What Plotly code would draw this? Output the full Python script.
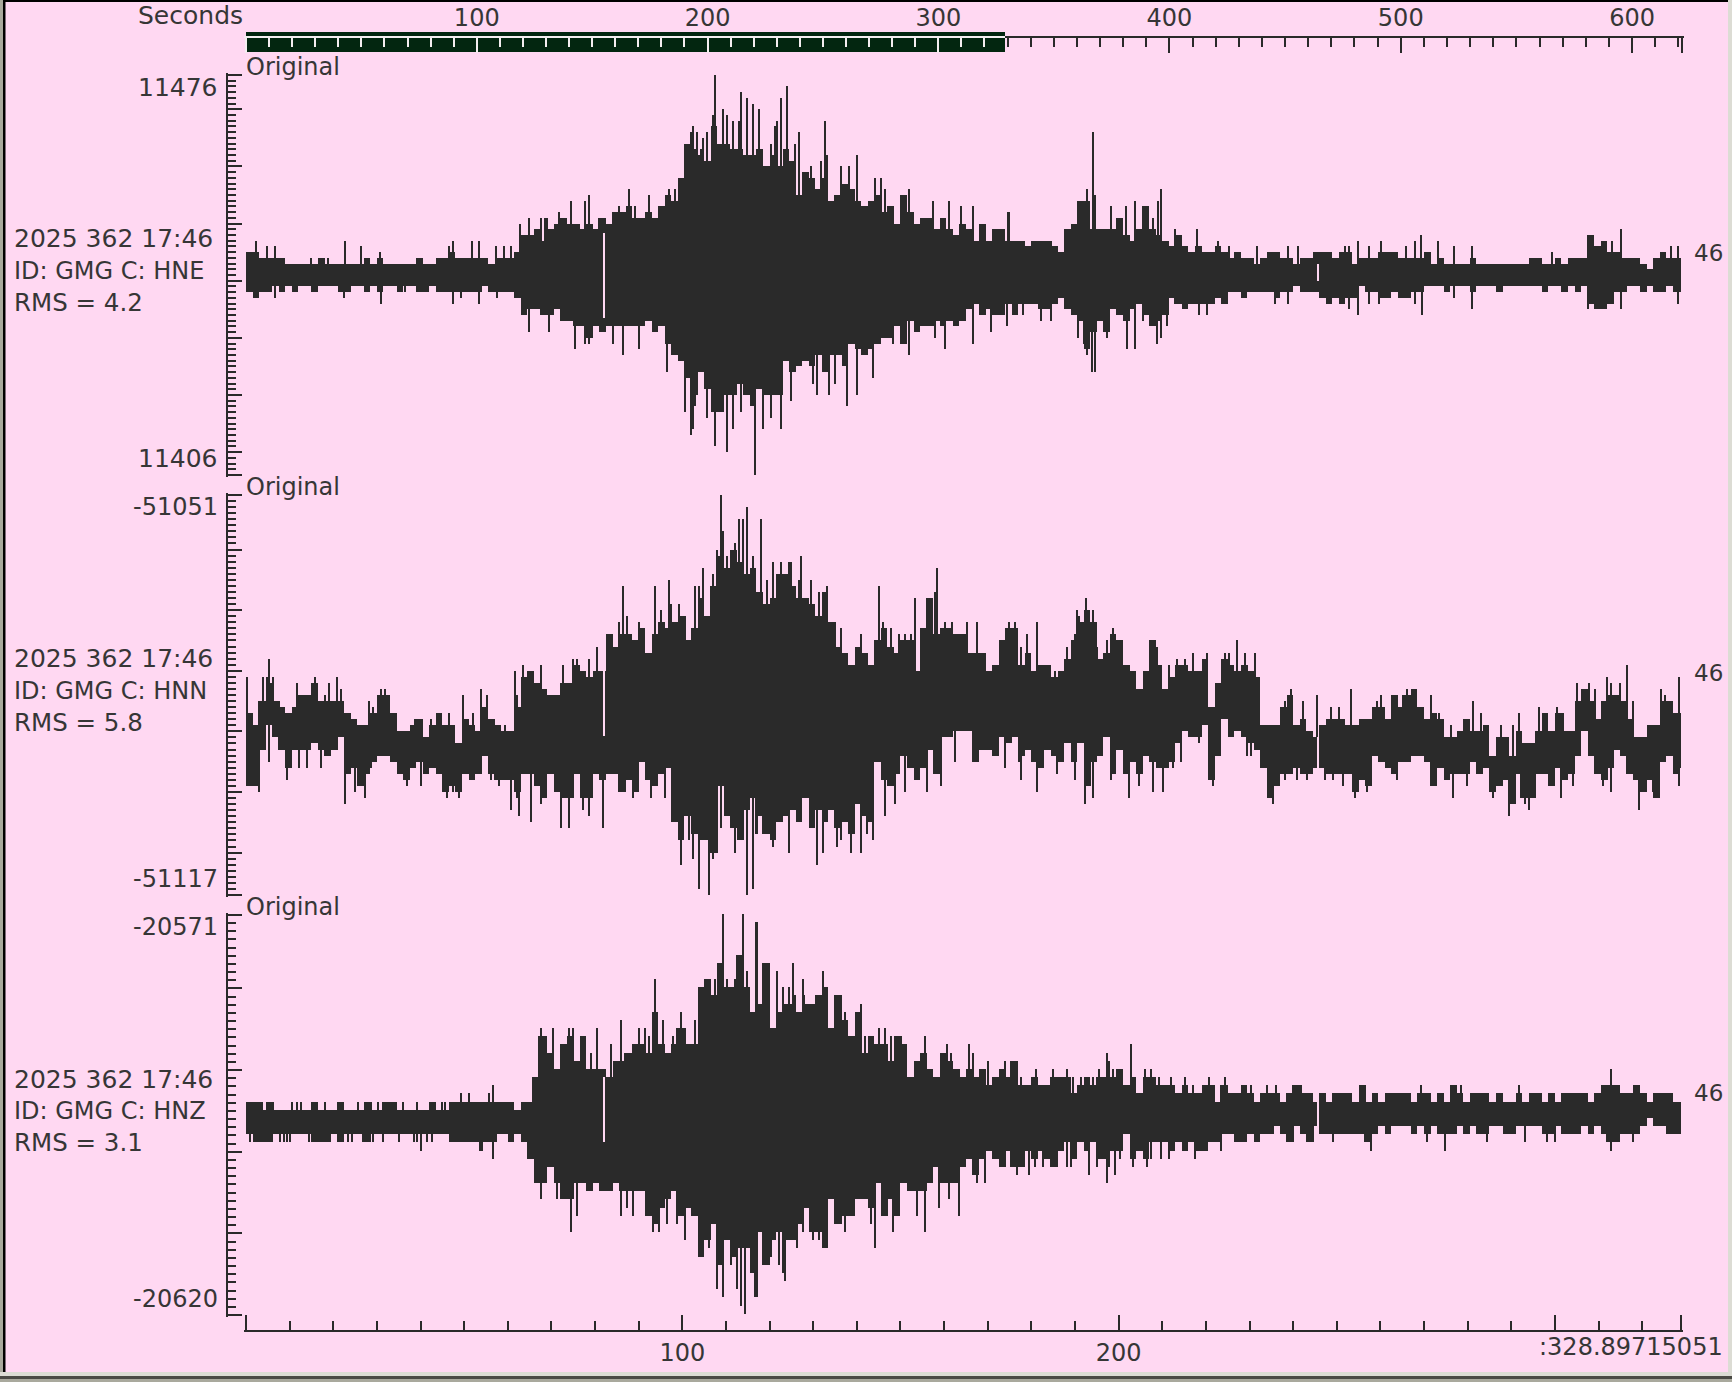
import plotly.graph_objects as go

WIDTH = 1732
HEIGHT = 1382
PINK = "#ffd8f2"
DARK = "#2a2a2a"
TEXT = "#363636"
GREEN = "#032610"
FONT = "DejaVu Sans"

# window lengths (seconds)
TRACE_LEN = 328.89715051
TOTAL_LEN = 621.6

# axis limits and centre level of each channel (counts)
HNE_RANGE = [11406, 11476]
HNN_RANGE = [-51117, -51051]
HNZ_RANGE = [-20620, -20571]
HNE_BASE = 11441
HNN_BASE = -51084
HNZ_BASE = -20595.85

# envelope of each channel in 1.5 s bins, counts from the centre level
HNE_HI = [4, 4, 3, 3, 3, 3, 2, 2, 2, 2, 2, 3, 2, 2, 2, 2, 2, 2, 3, 2,
          3, 2, 2, 2, 2, 2, 3, 2, 2, 3, 3, 4, 3, 3, 3, 3, 3, 2, 3, 3,
          3, 4, 7,
          7, 8, 6, 8, 9, 10, 9, 9, 8, 9, 8, 10, 9, 11, 11, 12, 10, 10, 11, 10,
          12, 14, 13, 17, 23, 22, 21, 20, 26, 23, 23, 22, 22, 21, 21, 22, 19, 21, 19, 22,
          20, 14, 18, 17, 15, 17, 13, 14, 16, 15, 13, 12, 13, 14, 11, 12, 9, 14, 11, 9,
          10, 10, 8, 10, 8, 7, 9, 8, 6, 9, 6, 8, 8, 6,
          6, 6, 5, 6, 6, 6, 5, 4, 8, 9, 13, 13, 8, 8, 8, 8, 10, 7, 6, 8,
          12, 8, 7, 6, 5, 7, 5, 4, 5, 4, 4, 5, 4, 3, 4, 3, 3, 2, 3, 4,
          4, 3, 3, 2, 3, 3, 4, 4, 4, 3, 4, 4, 2, 3, 3, 3, 4, 4, 4, 3,
          3, 3, 3, 4, 2, 3, 2, 2, 2, 2, 3, 2, 2, 2, 2, 2, 2, 2, 2, 3,
          3, 2, 2, 3, 2, 3, 3, 3, 7, 5, 6, 4, 4, 3, 3, 3, 2, 1, 3, 4, 3, 3, 3]
HNE_LO = [-3, -4, -3, -3, -2, -3, -2, -3, -2, -2, -3, -2, -2, -2, -3, -3, -2, -2, -3, -2,
          -3, -2, -2, -3, -2, -2, -3, -3, -2, -3, -3, -3, -3, -3, -3, -3, -2, -3, -3, -3,
          -3, -4, -7,
          -6, -6, -7, -7, -6, -8, -8, -9, -9, -11, -9, -10, -9, -9, -9, -9, -9, -9, -8, -10,
          -9, -12, -14, -15, -18, -21, -17, -20, -24, -24, -21, -21, -19, -21, -23, -20, -21, -21, -21, -15,
          -17, -16, -15, -16, -14, -17, -14, -14, -16, -12, -13, -14, -13, -12, -11, -11, -9, -12, -8, -10,
          -9, -9, -8, -9, -8, -9, -8, -6, -5, -7, -6, -7, -7, -5,
          -7, -5, -5, -5, -6, -6, -5, -4, -6, -7, -8, -13, -10, -8, -10, -6, -7, -8, -6, -5,
          -7, -9, -8, -7, -4, -5, -6, -5, -5, -5, -5, -4, -5, -3, -3, -4, -3, -3, -3, -3,
          -4, -3, -3, -2, -3, -3, -3, -4, -5, -4, -5, -4, -4, -2, -3, -3, -4, -4, -3, -4,
          -4, -3, -3, -2, -2, -2, -3, -2, -2, -2, -3, -2, -2, -2, -3, -2, -2, -2, -2, -2,
          -2, -3, -2, -2, -3, -2, -3, -2, -5, -6, -6, -5, -3, -3, -2, -2, -3, -2, -3, -3, -2, -3, -3]
HNN_HI = [-3, -5, -1, 2, -1, -2, -3, -2, 0, 0, 2, -1, -1, -1, -1, -3, -4, -5, -5, -3,
          0, 0, -3, -6, -6, -5, -4, -7, -5, -3, -5, -5, -8, -4, -5, -6, -2, -4, -5, -6,
          -6, -2, 3,
          4, 2, 1, 0, 0, 2, 2, 5, 4, 3, 4, 4, 10, 8, 10, 10, 9, 11, 7, 10,
          12, 11, 12, 13, 9, 11, 16, 13, 18, 23, 21, 24, 22, 20, 21, 17, 15, 16, 20, 20,
          18, 16, 16, 15, 13, 17, 12, 8, 7, 5, 8, 7, 5, 9, 11, 8, 7, 9, 9, 4,
          11, 16, 10, 11, 11, 10, 10, 7, 7, 7, 4, 5, 9, 11,
          11, 5, 7, 4, 5, 5, 3, 4, 6, 9, 12, 14, 12, 6, 7, 10, 9, 5, 4, 1,
          4, 9, 5, 1, 3, 5, 5, 4, 4, 6, -2, 2, 6, 5, 4, 5, 4, 3, -5, -5,
          -5, -2, 0, -5, -4, -6, -7, -5, -4, -4, -4, -5, -5, -4, -4, -2, -2, -4, 0, -2,
          0, 1, -2, -4, -3, -4, -7, -7, -6, -4, -6, -6, -5, -10, -7, -7, -10, -6, -8, -8,
          -6, -3, -6, -3, -6, -6, -1, 1, -1, -4, -1, 0, 0, -1, -4, -7, -7, -5, -5, -1, -1, -3, -3]
HNN_LO = [-15, -15, -9, -5, -7, -9, -12, -9, -9, -9, -8, -9, -10, -9, -7, -13, -12, -15, -13, -11,
          -10, -10, -11, -13, -14, -12, -11, -13, -12, -13, -16, -15, -16, -13, -14, -13, -10, -13, -14, -14,
          -14, -16, -13,
          -13, -15, -17, -13, -16, -17, -17, -13, -17, -17, -13, -14, -13, -13, -16, -14, -16, -11, -14, -15,
          -13, -12, -21, -24, -20, -23, -24, -24, -26, -15, -20, -22, -24, -19, -17, -20, -23, -24, -21, -20,
          -19, -21, -17, -22, -19, -21, -19, -22, -21, -23, -18, -20, -21, -11, -14, -15, -13, -10, -12, -14,
          -12, -9, -13, -7, -7, -6, -6, -6, -11, -9, -9, -10, -7, -8,
          -7, -10, -9, -11, -12, -9, -10, -11, -8, -11, -8, -15, -11, -10, -7, -13, -9, -13, -11, -13,
          -10, -11, -12, -12, -11, -8, -6, -7, -7, -5, -14, -10, -4, -7, -6, -7, -8, -9, -12, -17,
          -15, -13, -13, -12, -13, -13, -12, -12, -13, -13, -13, -13, -16, -14, -15, -10, -11, -12, -13, -11,
          -11, -10, -10, -11, -15, -12, -14, -13, -13, -13, -11, -13, -12, -16, -15, -14, -18, -13, -17, -17,
          -13, -13, -15, -12, -14, -13, -10, -6, -10, -13, -14, -12, -9, -10, -13, -14, -16, -14, -17, -11, -10, -13, -12]
HNZ_HI = [2, 2, 1, 2, 1, 1, 1, 1, 1, 1, 2, 1, 1, 1, 2, 1, 1, 1, 2, 1,
          1, 2, 2, 1, 1, 1, 1, 1, 2, 1, 1, 2, 2, 2, 2, 2, 2, 2, 2, 2,
          2, 1, 2,
          2, 5, 10, 8, 6, 9, 10, 7, 10, 6, 6, 6, 5, 7, 7, 8, 9, 9, 8, 13,
          9, 8, 9, 11, 9, 9, 16, 17, 15, 19, 16, 16, 20, 16, 13, 14, 19, 11, 13, 14,
          14, 13, 14, 14, 15, 16, 11, 15, 12, 10, 13, 8, 10, 9, 9, 7, 10, 9, 5, 7,
          8, 6, 5, 8, 7, 6, 5, 6, 5, 6, 4, 5, 6, 5,
          7, 4, 4, 5, 4, 4, 5, 5, 5, 3, 4, 5, 4, 5, 5, 5, 6, 4, 5, 3,
          5, 5, 4, 4, 4, 3, 4, 3, 3, 4, 4, 2, 4, 3, 3, 4, 3, 2, 3, 3,
          3, 2, 3, 4, 3, 3, 2, 3, 2, 3, 3, 3, 2, 4, 2, 3, 2, 3, 3, 3,
          3, 2, 3, 3, 2, 3, 2, 4, 3, 2, 3, 3, 3, 2, 3, 2, 2, 3, 2, 3,
          3, 2, 3, 2, 3, 3, 3, 3, 2, 3, 4, 4, 4, 3, 3, 4, 3, 2, 3, 3, 3, 2, 2]
HNZ_LO = [-2, -3, -3, -3, -2, -2, -2, -2, -2, -2, -3, -3, -3, -2, -3, -2, -2, -2, -3, -2,
          -2, -2, -2, -2, -2, -2, -2, -2, -2, -2, -2, -3, -3, -3, -3, -3, -3, -3, -2, -2,
          -3, -2, -3,
          -5, -8, -8, -6, -8, -10, -10, -8, -8, -9, -8, -9, -9, -8, -9, -9, -9, -9, -12, -13,
          -11, -10, -9, -12, -11, -12, -17, -15, -13, -18, -15, -17, -16, -16, -19, -14, -18, -15, -14, -15,
          -15, -13, -11, -14, -14, -16, -10, -13, -12, -12, -10, -10, -11, -8, -12, -10, -12, -8, -9, -9,
          -9, -8, -6, -8, -8, -8, -6, -5, -7, -5, -4, -5, -6, -4,
          -6, -6, -4, -5, -4, -5, -6, -4, -3, -5, -3, -4, -3, -5, -5, -4, -4, -2, -5, -4,
          -5, -3, -3, -3, -4, -3, -4, -3, -4, -4, -3, -3, -2, -2, -3, -3, -2, -3, -2, -2,
          -1, -2, -3, -1, -2, -3, -1, -2, -2, -2, -2, -2, -2, -2, -3, -2, -1, -2, -1, -1,
          -1, -2, -1, -2, -1, -2, -2, -2, -1, -2, -1, -2, -2, -1, -1, -2, -2, -1, -1, -1,
          -1, -2, -2, -1, -2, -2, -2, -1, -2, -1, -2, -3, -3, -2, -2, -2, -1, 0, -1, -1, -2, -2, -2]

# single spikes above and below the envelope: (seconds, counts from centre)
HNE_UP = [(2.4, 6), (4.8, 5), (6.6, 5), (14.8, 3), (18.7, 3), (22.6, 6), (26.3, 5), (30.8, 4), (46.5, 5), (47.4, 6),
          (51.9, 6), (53.3, 6), (57.3, 5), (59.1, 5), (60.7, 5), (62.9, 9), (64.8, 10), (67.6, 10), (68.5, 10), (69, 10),
          (71.7, 11), (72.9, 10), (74.5, 13), (77.7, 13), (78.6, 14), (80.9, 10), (85.5, 12), (87.8, 15), (89.1, 12), (92.3, 14),
          (96.9, 15), (98.3, 15), (100.6, 21), (102, 25), (102.4, 26), (103.3, 25), (104.3, 22), (104.7, 24), (105.6, 25), (107, 28),
          (107.5, 35), (109.3, 29), (110.2, 28), (111.6, 27), (113, 27), (113.4, 32), (114.8, 31), (116.2, 30), (117.6, 29), (120.3, 23),
          (121.2, 26), (121.7, 27), (122.6, 31), (124, 33), (125.8, 23), (126.7, 25), (128.1, 18), (129.5, 19), (131.8, 20), (132.7, 27),
          (133.1, 21), (136.4, 19), (138.2, 19), (140, 21), (144.1, 17), (145.5, 17), (146.4, 15), (151.9, 15), (157.4, 13), (161.1, 13),
          (163.8, 12), (166.6, 12), (174.7, 11), (174.9, 11), (190.8, 13), (191.9, 12), (192.7, 15), (194.1, 25), (194.6, 14), (198.3, 12),
          (201.8, 12), (203.8, 13), (205.5, 10), (207.9, 10), (209, 13), (209.8, 15), (213, 8), (218, 8), (222.7, 6), (225.4, 5),
          (231.8, 5), (238.8, 5), (241.1, 5), (252, 5), (252.8, 5), (254.8, 6), (257.5, 5), (260.2, 6), (265.9, 5), (268, 6),
          (269.4, 7), (273.1, 6), (276.8, 5), (280.9, 5), (299.4, 4), (308.1, 7), (311.6, 6), (313, 6), (315.1, 8), (326.5, 5), (328.3, 5)]
HNE_DN = [(2.6, -4), (6.6, -4), (22.5, -4), (28.1, -3), (31, -5), (36.5, -3), (47.4, -5), (49.2, -4), (53.4, -5), (57.6, -4),
          (61.7, -4), (64.8, -10), (69.4, -10), (75.4, -13), (77.7, -12), (78.6, -12), (84.1, -12), (86.4, -14), (90, -13), (96.5, -17),
          (100.6, -24), (102, -28), (102.4, -27), (102.9, -23), (105.6, -25), (107.5, -30), (110.2, -31), (111.6, -27), (113.4, -24), (116.6, -35),
          (118.5, -27), (120.3, -25), (122.6, -27), (124.9, -22), (129.9, -19), (130.9, -21), (133.6, -21), (135, -19), (137.7, -23), (140, -21),
          (143.7, -18), (148.3, -12), (151.9, -14), (157.9, -11), (160.2, -13), (166.6, -12), (170.7, -10), (174.4, -9), (178, -7), (182.2, -8),
          (184.4, -8), (190.8, -11), (192.1, -12), (192.7, -14), (193.9, -17), (194.6, -17), (197.3, -11), (201.9, -13), (203.8, -13), (205.5, -8),
          (208.9, -12), (209.8, -11), (211.1, -9), (218.4, -7), (220.3, -7), (235.9, -5), (238.8, -5), (252.9, -6), (254.8, -7), (257.5, -5),
          (259.7, -5), (268, -5), (269.5, -7), (276.8, -4), (280.9, -6), (307.6, -6), (310.4, -6), (315.1, -6), (328.3, -5)]
HNN_UP = [(0.2, 3), (3.9, 3), (4.8, 3), (5.3, 6), (6.2, 3), (7.6, -1), (11.7, 2), (15.3, 2), (15.8, 3), (18.1, 0),
          (19, 2), (20.9, 3), (21.8, 1), (28.2, -1), (29.1, -2), (30.9, 1), (31.9, 1), (36.4, -6), (38.7, -4), (42.4, -4),
          (44.5, -3), (46.5, -3), (49.7, 0), (52, -3), (53.9, 1), (55.2, 0), (57.1, -5), (59.4, -5), (61.6, 4), (62.1, 0),
          (63.5, 5), (65.3, 4), (67.6, 5), (72.6, 5), (74.9, 6), (75.8, 6), (78.6, 6), (80.4, 8), (85.5, 12), (86.4, 18),
          (87.3, 13), (90.1, 12), (93.7, 18), (95.1, 14), (96.9, 19), (97.4, 15), (99.2, 15), (100.6, 13), (102.9, 18), (103.8, 18),
          (104.7, 21), (106.6, 18), (107, 20), (107.9, 24), (108.8, 33), (109.3, 27), (110.2, 23), (111.6, 24), (112.1, 25), (113, 29),
          (113.9, 29), (114.8, 31), (116.2, 23), (118, 29), (119.4, 19), (120.8, 22), (121.7, 18), (122.6, 22), (124.4, 22), (124.9, 22),
          (126.7, 19), (127.2, 23), (129.5, 19), (131.3, 17), (133.1, 18), (135, 12), (136.4, 11), (140.9, 10), (145, 18), (146, 12),
          (147.8, 11), (149.6, 10), (151, 10), (152.4, 10), (153.3, 16), (157, 15), (157.9, 17), (158.3, 21), (160.2, 12), (161.9, 12),
          (165.2, 12), (167.5, 12), (174.9, 12), (176.2, 12), (177.6, 8), (179, 10), (181.3, 12), (185.4, 4), (186.3, 4), (188.2, 8),
          (190, 10), (190.5, 14), (190.9, 13), (192.5, 16), (193.4, 12), (194.1, 14), (195, 8), (197.3, 9), (198.7, 11), (200.1, 9),
          (207.4, 8), (207.9, 9), (208.8, 8), (209.7, 5), (211.5, 5), (213.4, 6), (215.2, 6), (217, 7), (220.2, 7), (224.4, 7),
          (225.3, 7), (227.1, 9), (228.9, 7), (231.2, 7), (238.1, -1), (239.5, 1), (242.3, -1), (245.5, 0), (248.7, -2), (250.5, -2),
          (253.2, 1), (259.2, -1), (260.1, 0), (263.9, 0), (265.2, 0), (266.1, 1), (267.5, 1), (271.6, 0), (273.4, -3), (276.2, -5),
          (281.2, -1), (283.1, -3), (287.6, -5), (290.5, -5), (291.8, -3), (296.4, -2), (297.5, -3), (300.5, -2), (301.9, -3), (305.1, 2),
          (306.5, 1), (307.8, 2), (309.2, 1), (311.9, 3), (312.9, 2), (314.9, 2), (316.5, 5), (317.9, -1), (324.3, 1), (325.2, 0), (328.4, 3)]
HNN_DN = [(3, -16), (5.3, -11), (9.4, -14), (12.1, -12), (14, -12), (17.2, -12), (22.7, -18), (25, -16), (27.3, -17), (28.6, -12),
          (36.9, -15), (40.1, -15), (45.6, -15), (46.1, -17), (47.4, -16), (48.8, -17), (56.1, -14), (58, -15), (60.7, -19), (62.1, -17),
          (62.6, -20), (65.3, -21), (67.6, -18), (72.2, -22), (74, -22), (77.2, -19), (78.6, -20), (81.8, -22), (88.7, -17), (92.8, -17),
          (96, -17), (98.3, -21), (99.7, -28), (101.5, -24), (102.4, -27), (103.8, -32), (105.2, -24), (106.1, -33), (107, -27), (107.5, -26),
          (108.8, -22), (112.1, -26), (113.9, -24), (114.8, -33), (116.2, -32), (117.1, -23), (118.5, -23), (120.8, -25), (124.4, -26), (129.9, -22),
          (130.9, -28), (132.2, -26), (135.4, -25), (136.4, -24), (138.6, -26), (140.9, -26), (142.3, -23), (143.7, -24), (146.4, -20), (148.7, -18),
          (151, -16), (156.1, -16), (159.3, -15), (162.5, -11), (166.6, -10), (173.9, -12), (177.1, -11), (177.6, -14), (181.3, -16), (185.9, -13),
          (190, -14), (192.3, -18), (194.1, -17), (198.2, -14), (202.4, -17), (204.7, -15), (207.9, -16), (210.2, -16), (212.5, -12), (214.3, -11),
          (218.4, -8), (221.6, -15), (222.5, -10), (225.7, -7), (229.4, -10), (230.3, -10), (234.9, -17), (235.4, -18), (238.1, -14), (240.9, -14),
          (243.2, -14), (247.3, -14), (249.1, -14), (251.4, -15), (254.2, -17), (256.9, -16), (263.8, -14), (271.6, -15), (272.5, -15), (276.6, -17),
          (279.9, -15), (285.8, -17), (289.5, -20), (292.2, -17), (293.1, -18), (294.1, -19), (295.4, -17), (299.1, -15), (301.4, -17), (304.1, -15),
          (311, -15), (312.9, -16), (319.3, -19), (320.2, -16), (322.5, -16), (323.9, -17), (328.4, -15)]
HNZ_UP = [(0.5, 2), (1, 2), (3.2, 2), (3.7, 2), (6.3, 2), (10.5, 2), (11.6, 2), (12.5, 2), (16.2, 2), (18.1, 2),
          (21.5, 2), (22, 2), (25.7, 2), (27.7, 2), (28.6, 2), (30.3, 2), (33.4, 2), (34.3, 2), (36, 2), (39.1, 2),
          (42.7, 2), (43.3, 2), (45, 2), (45.6, 2), (47.9, 2), (49.3, 3), (49.8, 2), (51.1, 3), (51.7, 2), (52.5, 2),
          (54, 2), (54.4, 2), (55.7, 3), (56.6, 4), (65.8, 5), (67.1, 10), (67.6, 11), (70.3, 11), (74, 11), (74.9, 11),
          (76.8, 10), (79.1, 8), (80.4, 11), (83.6, 9), (85.9, 12), (86.8, 8), (90.1, 11), (91.4, 11), (92.3, 10), (93.7, 17),
          (94.2, 11), (95.6, 12), (97.8, 10), (98.8, 11), (99.7, 13), (100.6, 11), (102.9, 12), (103.8, 15), (104.7, 16), (106.1, 17),
          (107.5, 17), (108.8, 19), (109.3, 25), (110.2, 17), (112.1, 17), (113.4, 20), (113.9, 25), (114.8, 18), (115.3, 16), (117.1, 24),
          (119.4, 19), (119.9, 19), (121.7, 18), (123.1, 16), (124.4, 16), (125.4, 19), (125.8, 15), (127.6, 17), (128, 15), (131.3, 15),
          (132.2, 18), (133.1, 16), (135, 15), (136.4, 15), (137.3, 13), (140, 12), (140.9, 14), (141.8, 10), (143.7, 10), (145, 11),
          (146.4, 11), (147.8, 10), (150.1, 10), (155.6, 10), (160.6, 9), (161.6, 8), (165.7, 9), (166.6, 8), (170.1, 7), (173.9, 7),
          (175.3, 7), (176.2, 7), (177.6, 5), (181, 6), (185, 6), (188.2, 6), (189.5, 5), (191.4, 5), (194.1, 5), (195.5, 6),
          (197.3, 8), (197.7, 7), (198.7, 6), (200.5, 6), (202.8, 9), (206, 6), (207.4, 6), (209.2, 5), (212, 5), (215.2, 5),
          (217, 4), (220.7, 5), (224.4, 5), (228.9, 4), (230.3, 4), (234, 4), (236.1, 4), (241.8, 4), (256.5, 4), (269.3, 4),
          (276.3, 4), (278.5, 4), (291.8, 4), (311, 4), (312.9, 6), (319, 4)]
HNZ_DN = [(1, -3), (2, -3), (3.2, -3), (4.4, -3), (5.2, -3), (5.9, -3), (7.8, -3), (8.6, -3), (9.3, -3), (10.1, -3),
          (14.5, -3), (15.8, -3), (16.9, -3), (18.3, -3), (19.3, -3), (21, -3), (22.3, -3), (23.4, -3), (24.2, -3), (26.9, -3),
          (28.4, -3), (29, -3), (31.5, -3), (35.1, -3), (38.4, -3), (39.1, -3), (40.1, -4), (41.4, -3), (42.7, -3), (47.9, -3),
          (49.3, -3), (51, -3), (52.5, -3), (53.6, -4), (54.1, -4), (55.7, -3), (56.6, -5), (57.4, -3), (67.7, -10), (71.3, -10),
          (74.5, -14), (75.8, -12), (85.9, -12), (87.3, -11), (88.7, -12), (93.3, -14), (94.6, -14), (96.5, -13), (98.8, -13), (100.6, -15),
          (103.8, -17), (104.7, -17), (105.6, -15), (106.1, -16), (107.9, -21), (109.3, -22), (110.2, -15), (111.1, -18), (112.5, -21), (113.4, -23),
          (114.3, -24), (116.2, -19), (116.6, -22), (117.1, -22), (118.5, -18), (120.3, -17), (122.1, -18), (123.1, -19), (123.5, -20), (126.3, -16),
          (127.6, -14), (129.9, -15), (131.3, -15), (133.1, -16), (137.3, -14), (143.2, -13), (144.1, -16), (146.9, -12), (148.3, -14), (153.8, -12),
          (155.6, -14), (158.8, -11), (161.1, -10), (163.4, -12), (167.5, -8), (169.4, -8), (175.3, -6), (176.7, -7), (179.5, -7), (180.8, -6),
          (182.7, -6), (184.5, -6), (188.2, -6), (189.1, -6), (193.2, -7), (195, -6), (197.3, -8), (197.8, -6), (199.2, -7), (200.3, -5),
          (203.3, -6), (206.5, -6), (207.4, -5), (209.7, -5), (211.5, -5), (217.5, -5), (219.8, -4), (223.5, -4), (226.7, -3), (228.9, -3),
          (231.7, -3), (238.6, -3), (240, -3), (243.2, -3), (244.5, -3), (249.1, -3), (257.8, -4), (270.7, -3), (274.8, -4), (284.4, -3),
          (293.1, -3), (298.2, -3), (300, -3), (311.9, -3), (312.9, -4), (313.8, -3), (317.9, -3)]

# short data gaps in the record: seconds and the span left blank in each channel
GAP_T = [82.1, 245.7]
HNE_GAP = [(7.4, -7.5), (2, -1)]
HNN_GAP = [(4.4, -6.8), (-7, -12)]
HNZ_GAP = [(5, -3), (3, -1)]

CHANNELS = [
    dict(name="HNE", rms="4.2", rng=HNE_RANGE, base=HNE_BASE, hi=HNE_HI, lo=HNE_LO, up=HNE_UP, dn=HNE_DN, gap=HNE_GAP,
         top=75, labels=["11476", "11406"], label_size=25),
    dict(name="HNN", rms="5.8", rng=HNN_RANGE, base=HNN_BASE, hi=HNN_HI, lo=HNN_LO, up=HNN_UP, dn=HNN_DN, gap=HNN_GAP,
         top=495, labels=["-51051", "-51117"], label_size=24),
    dict(name="HNZ", rms="3.1", rng=HNZ_RANGE, base=HNZ_BASE, hi=HNZ_HI, lo=HNZ_LO, up=HNZ_UP, dn=HNZ_DN, gap=HNZ_GAP,
         top=915, labels=["-20571", "-20620"], label_size=24),
]

PANEL_H = 400
BIN = 1.5
COLUMN = 2 * TRACE_LEN / 1435  # the trace is drawn in 2 px columns
PAD = 2  # px of spare axis so plotly keeps the end ticks


def fx(px):
    return px / WIDTH


def fy(px):
    return 1 - px / HEIGHT


def label(fig, text, x, y, xanchor="left", size=24):
    fig.add_annotation(text=text, xref="paper", yref="paper", x=fx(x), y=fy(y), xanchor=xanchor, yanchor="middle",
                       showarrow=False, font=dict(family=FONT, size=size, color=TEXT), borderpad=0, borderwidth=0)


def x_ticks(major, labels, color, line):
    return dict(
        showgrid=False, zeroline=False, fixedrange=True, showline=True, linecolor=line, linewidth=2,
        anchor="free", tickmode="array", tickvals=major, ticktext=labels,
        ticks="inside", ticklen=15, tickwidth=2, tickcolor=color,
        minor=dict(ticks="inside", ticklen=9, tickwidth=2, tickcolor=color, tickmode="linear", tick0=0, dtick=10,
                   showgrid=False),
        tickfont=dict(family=FONT, size=24, color=TEXT),
    )


def bin_of(t, n):
    return min(int(t / BIN), n - 1)


fig = go.Figure()

for i, ch in enumerate(CHANNELS):
    yname = "y" if i == 0 else f"y{i + 1}"
    base = ch["base"]
    hi, lo = ch["hi"], ch["lo"]
    n = len(hi)

    widths = [min(BIN, TRACE_LEN - k * BIN) for k in range(n)]
    body_t = [k * BIN + widths[k] / 2 for k in range(n)]
    fig.add_trace(go.Bar(x=body_t, y=[h - l for h, l in zip(hi, lo)], base=[base + l for l in lo],
                         width=widths, xaxis="x", yaxis=yname, marker=dict(color=DARK, line=dict(width=0))))
    # spikes rise from the far edge of the envelope so they never float outside it
    up_from = [lo[bin_of(s[0], n)] for s in ch["up"]]
    fig.add_trace(go.Bar(x=[s[0] for s in ch["up"]], y=[s[1] - f for s, f in zip(ch["up"], up_from)],
                         base=[base + f for f in up_from], width=COLUMN,
                         xaxis="x", yaxis=yname, marker=dict(color=DARK, line=dict(width=0))))
    dn_from = [hi[bin_of(s[0], n)] for s in ch["dn"]]
    fig.add_trace(go.Bar(x=[s[0] for s in ch["dn"]], y=[s[1] - f for s, f in zip(ch["dn"], dn_from)],
                         base=[base + f for f in dn_from], width=COLUMN,
                         xaxis="x", yaxis=yname, marker=dict(color=DARK, line=dict(width=0))))
    fig.add_trace(go.Bar(x=GAP_T, y=[g[0] - g[1] for g in ch["gap"]], base=[base + g[1] for g in ch["gap"]], width=COLUMN,
                         xaxis="x", yaxis=yname, marker=dict(color=PINK, line=dict(width=0))))

    low, high = ch["rng"]
    spare = PAD * (high - low) / PANEL_H
    majors = [low] + [v for v in range(low, high + 1) if v % 10 == 0] + [high]
    axis = dict(
        domain=[fy(ch["top"] + PANEL_H + PAD), fy(ch["top"] - PAD)], range=[low - spare, high + spare],
        anchor="free", position=fx(227),
        showgrid=False, zeroline=False, fixedrange=True, showline=True, linecolor=DARK, linewidth=2,
        tickmode="array", tickvals=majors, ticks="inside", ticklen=14, tickwidth=2, tickcolor=DARK,
        showticklabels=False,
        minor=dict(ticks="inside", ticklen=8, tickwidth=2, tickcolor=DARK, tickmode="linear", tick0=0, dtick=1,
                   showgrid=False),
    )
    fig.update_layout({"yaxis" if i == 0 else f"yaxis{i + 1}": axis})

    offset = 420 * i
    label(fig, ch["labels"][0], 218, ch["top"] + 12, "right", ch["label_size"])
    label(fig, ch["labels"][1], 218, ch["top"] + 384, "right", ch["label_size"])
    label(fig, "2025 362 17:46", 14, 239 + offset, size=25)
    label(fig, f"ID: GMG C: {ch['name']}", 14, 271 + offset, size=24)
    label(fig, f"RMS = {ch['rms']}", 14, 302 + offset, size=24.5)
    label(fig, "Original", 246, 67 + offset, size=24)
    label(fig, "46", 1694, 253 + offset, size=23)

# invisible points so the two top axes are laid out
fig.add_trace(go.Scatter(x=[0], y=[HNE_BASE], xaxis="x2", yaxis="y", mode="markers", marker=dict(opacity=0)))
fig.add_trace(go.Scatter(x=[TOTAL_LEN], y=[HNE_BASE], xaxis="x3", yaxis="y", mode="markers", marker=dict(opacity=0)))

bottom_spare = PAD * TRACE_LEN / 1435
bottom = x_ticks([0, 100, 200, 300, TRACE_LEN], ["", "100", "200", "", ""], DARK, DARK)
bottom.update(domain=[fx(246 - PAD), fx(1681 + PAD)], range=[-bottom_spare, TRACE_LEN + bottom_spare],
              position=fy(1331), side="bottom")

top_spare = PAD * TOTAL_LEN / 1436
top_done = x_ticks([0, 100, 200, 300], ["", "100", "200", "300"], "#f4eef0", "#f4eef0")
top_done.update(domain=[fx(246 - PAD), fx(1005)], range=[-top_spare, TRACE_LEN], position=fy(37), side="top")

top_rest = x_ticks([400, 500, 600, TOTAL_LEN], ["400", "500", "600", ""], DARK, DARK)
top_rest.update(domain=[fx(1005), fx(1682 + PAD)], range=[TRACE_LEN, TOTAL_LEN + top_spare], position=fy(37), side="top")

# window frame round the plot area
FRAME = [(0, 0, WIDTH, 2, "#000000"), (0, 0, 3, HEIGHT, "#a9a99d"), (3, 0, 5.5, HEIGHT, "#000000"),
         (1728, 0, WIDTH, HEIGHT, "#dcdcd4"), (0, 1372, WIDTH, 1376, "#dcdcd4"), (0, 1376, WIDTH, 1379, "#4a4a44"),
         (0, 1379, WIDTH, HEIGHT, "#a9a99d")]
shapes = [dict(type="rect", xref="paper", yref="paper", x0=fx(a), x1=fx(c), y0=fy(d), y1=fy(b),
               fillcolor=col, line=dict(width=0), layer="above") for a, b, c, d, col in FRAME]
shapes.append(dict(type="rect", xref="x2", yref="paper", x0=0, x1=TRACE_LEN, y0=fy(52), y1=fy(32),
                   fillcolor=GREEN, line=dict(width=0), layer="below"))

label(fig, "Seconds", 138, 15, size=25)
label(fig, ":328.89715051", 1723, 1347, "right", 24)

fig.update_layout(
    width=WIDTH, height=HEIGHT, margin=dict(l=0, r=0, t=0, b=0, pad=0),
    paper_bgcolor=PINK, plot_bgcolor="rgba(0,0,0,0)",
    barmode="overlay", bargap=0, showlegend=False, hovermode=False,
    font=dict(family=FONT, size=23, color=TEXT),
    xaxis=bottom, xaxis2=top_done, xaxis3=top_rest, shapes=shapes,
)

fig.write_html("out.html", config=dict(displayModeBar=False),
               post_script="document.body.style.margin='0';document.body.style.overflow='hidden';")
